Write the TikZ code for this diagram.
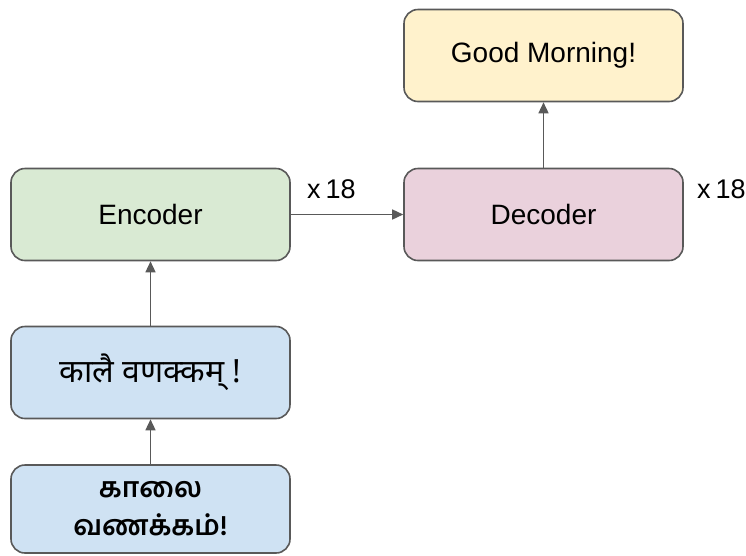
\documentclass[tikz,border=0pt]{standalone}
\usepackage{fontspec}
\setmainfont{Liberation Sans}
\newfontfamily\devafont[Script=Devanagari]{Noto Sans}
\newfontfamily\tamilfont[Script=Tamil]{Hind Madurai}
\usetikzlibrary{arrows.meta}
\definecolor{edgegrey}{HTML}{595959}
\definecolor{encfill}{HTML}{D9EAD3}
\definecolor{decfill}{HTML}{EAD1DC}
\definecolor{outfill}{HTML}{FFF2CC}
\definecolor{infill}{HTML}{CFE2F3}
\tikzset{
  block/.style={draw=edgegrey, line width=1.6pt, rounded corners=14pt,
    minimum width=279pt, minimum height=92pt, align=center, inner sep=0pt,
    font=\fontsize{28}{38}\selectfont},
  flow/.style={draw=edgegrey, line width=1.5pt,
    -{Triangle[length=11pt,width=10pt]}},
  reps/.style={font=\fontsize{27}{30}\selectfont, anchor=base west, inner sep=0pt}
}
\begin{document}
\begin{tikzpicture}[x=1pt,y=-1pt]
  \useasboundingbox (0,0) rectangle (746,555);
  \node[block, fill=encfill] (enc) at (150.5,214.5) {Encoder};
  \node[block, fill=decfill] (dec) at (543.5,214.5) {Decoder};
  \node[block, fill=outfill] (out) at (543.5,55.5) {Good Morning!};
  \node[block, fill=infill, font=\devafont\fontsize{32}{38}\selectfont]
    (translit) at (150.5,372.5) {कालै वणक्कम् !};
  \node[block, fill=infill, minimum height=88pt,
    font=\tamilfont\bfseries\fontsize{28}{38}\selectfont]
    (tamil) at (150.5,509) {காலை\\வணக்கம்!};
  \node[reps] (repenc) at (307,198) {x\hspace{0.18em}18};
  \node[reps] (repdec) at (697,198) {x\hspace{0.18em}18};
  \draw[flow] (tamil) -- (translit);
  \draw[flow] (translit) -- (enc);
  \draw[flow] (enc) -- (dec);
  \draw[flow] (dec) -- (out);
\end{tikzpicture}
\end{document}
